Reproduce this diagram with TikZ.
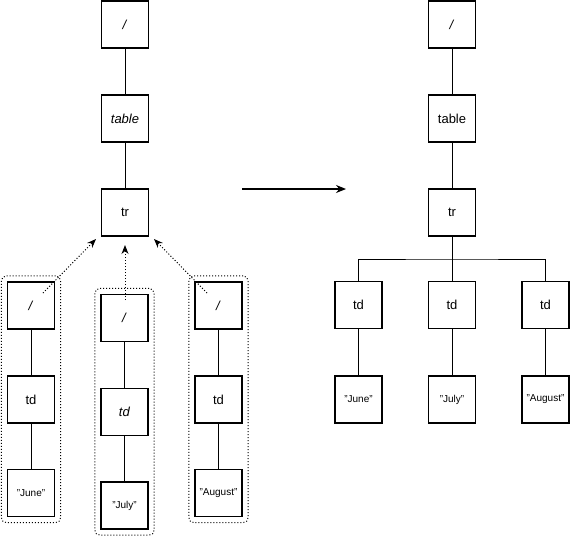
\documentclass[tikz,border=0pt]{standalone}
\usepackage{fontspec}
\setmainfont{Liberation Sans}
\usetikzlibrary{arrows.meta,fit}
\begin{document}
\begin{tikzpicture}[x=1pt,y=-1pt,
  box/.style={draw,line width=1.3pt,minimum width=47pt,minimum height=47pt,inner sep=0pt,font=\fontsize{13}{15}\selectfont},
  sbox/.style={box,font=\fontsize{10}{12}\selectfont},
  link/.style={line width=1pt},
  grp/.style={draw,dotted,line width=1pt,rounded corners=5pt,inner sep=5.5pt},
  darr/.style={dotted,line width=1pt,-{Stealth[length=9pt,width=7pt]}},
  marr/.style={line width=1.2pt,-{Stealth[length=10pt,width=8pt]}}]
\useasboundingbox (0,0) rectangle (570,536);
% left tree
\node[box] (l1) at (125,24.5) {\textit{/}};
\node[box] (l2) at (125,118.5) {\textit{table}};
\node[box] (l3) at (125,212.5) {tr};
\draw[link] (l1) -- (l2);
\draw[link] (l2) -- (l3);
% fragments
\node[box] (a1) at (31,305.5) {\textit{/}};
\node[box] (a2) at (31,399.5) {td};
\node[sbox] (a3) at (31,493) {"June"};
\node[box] (b1) at (124.5,318) {\textit{/}};
\node[box] (b2) at (124.5,412) {\textit{td}};
\node[sbox] (b3) at (124.5,505.5) {"July"};
\node[box] (c1) at (218.5,305.5) {\textit{/}};
\node[box] (c2) at (218.5,399.5) {td};
\node[sbox] (c3) at (218.5,493) {"August"};
\draw[link] (a1) -- (a2); \draw[link] (a2) -- (a3);
\draw[link] (b1) -- (b2); \draw[link] (b2) -- (b3);
\draw[link] (c1) -- (c2); \draw[link] (c2) -- (c3);
\node[grp,fit=(a1)(a3)] (ga) {};
\node[grp,fit=(b1)(b3)] (gb) {};
\node[grp,fit=(c1)(c3)] (gc) {};
\coordinate (as) at (43,293);
\coordinate (bs) at (125,300);
\coordinate (cs) at (207,293);
\coordinate (at) at (96,239);
\coordinate (bt) at (125,245);
\coordinate (ct) at (154,239);
\draw[darr] (as) -- (at);
\draw[darr] (bs) -- (bt);
\draw[darr] (cs) -- (ct);
% main arrow
\coordinate (m1) at (242,189);
\coordinate (m2) at (346,189);
\draw[marr] (m1) -- (m2);
% right tree
\node[box] (r1) at (452,24.5) {\textit{/}};
\node[box] (r2) at (452,118.5) {table};
\node[box] (r3) at (452,212.5) {tr};
\draw[link] (r1) -- (r2);
\draw[link] (r2) -- (r3);
\node[box] (d1) at (358.5,305) {td};
\node[box] (d2) at (452,305) {td};
\node[box] (d3) at (545.5,305) {td};
\node[sbox] (s1) at (358.5,399.5) {"June"};
\node[sbox] (s2) at (452,399.5) {"July"};
\node[sbox] (s3) at (545.5,399.5) {"August"};
\coordinate (bus) at (452,259);
\draw[link] (r3) -- (d2);
\draw[link] (d1) |- (bus) -| (d3);
\draw[link] (d1) -- (s1);
\draw[link] (d2) -- (s2);
\draw[link] (d3) -- (s3);
\end{tikzpicture}
\end{document}
